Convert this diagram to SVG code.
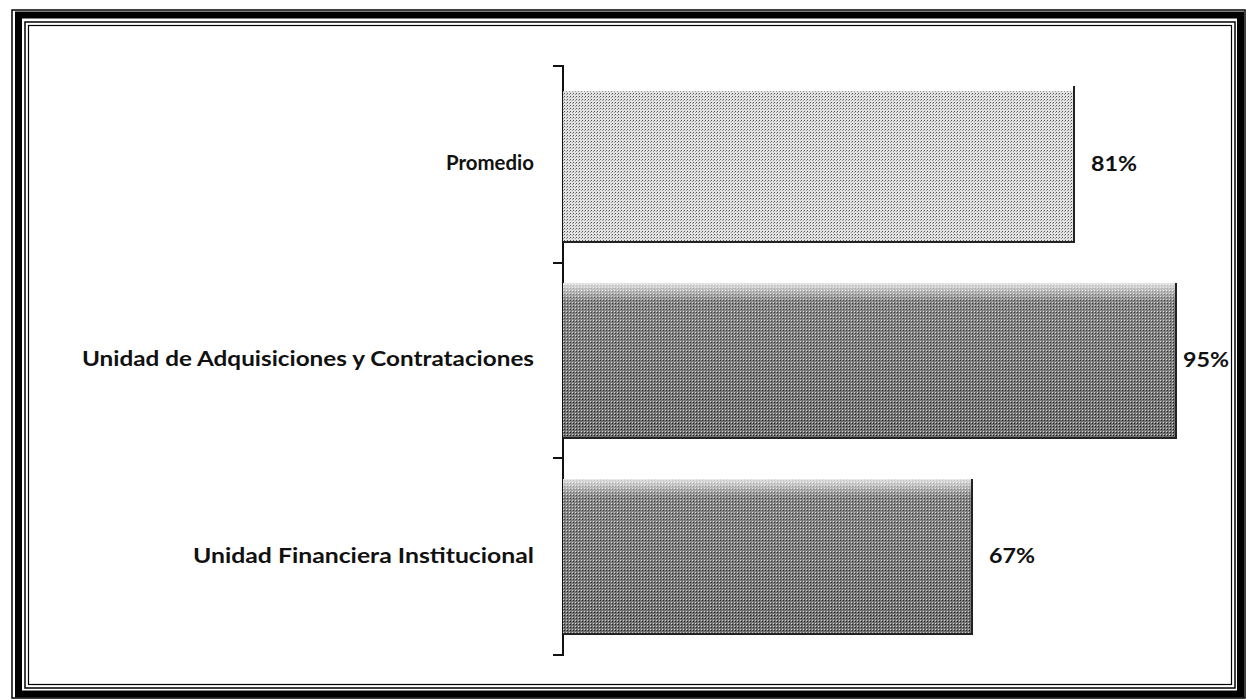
<svg xmlns="http://www.w3.org/2000/svg" width="1246" height="700" viewBox="0 0 1246 700">
  <style>
    .lbl { font-family: Lato, "Open Sans", "Liberation Sans", sans-serif; font-weight: bold; font-size: 21px; fill: #111; }
    .cat { text-anchor: end; }
    .frame { fill: none; stroke: #000; }
    .axis { stroke: #111; stroke-width: 2; fill: none; }
    .edge { stroke: #222; stroke-width: 2; fill: none; }
  </style>
  <defs>
    <pattern id="dotsLight" width="3" height="3" patternUnits="userSpaceOnUse">
      <rect width="3" height="3" fill="#e2e2e2"/>
      <rect x="0" y="0" width="1" height="1" fill="#555"/>
      <rect x="2" y="1" width="1" height="1" fill="#999"/>
    </pattern>
    <pattern id="dotsDark" width="3" height="3" patternUnits="userSpaceOnUse">
      <rect width="3" height="3" fill="#707070"/>
      <rect x="0" y="0" width="1" height="1" fill="#222"/>
      <rect x="2" y="2" width="1" height="1" fill="#cfcfcf"/>
    </pattern>
    <linearGradient id="topShine" x1="0" y1="0" x2="0" y2="1">
      <stop offset="0" stop-color="#ffffff" stop-opacity="0.8"/>
      <stop offset="0.12" stop-color="#ffffff" stop-opacity="0.15"/>
      <stop offset="1" stop-color="#ffffff" stop-opacity="0"/>
    </linearGradient>
  </defs>

  <rect width="1246" height="700" fill="#fff"/>

  <g id="frame">
    <rect class="frame" x="12" y="10" width="1233" height="688" stroke-width="1.5"/>
    <rect class="frame" x="18.5" y="15" width="1222" height="679" stroke-width="7"/>
    <rect class="frame" x="25" y="22" width="1210" height="666" stroke-width="1.5"/>
    <rect class="frame" x="28.5" y="25.5" width="1203" height="659" stroke-width="1.2"/>
  </g>

  <g id="connectors">
    <path class="axis" d="M553 66 H563 V655 H553 M553 263 H563 M553 458 H563"/>
  </g>

  <g id="bar-promedio">
    <rect x="563" y="91" width="511" height="151" fill="url(#dotsLight)"/>
    <path class="edge" d="M1074 86 V242 H563"/>
    <text class="lbl cat" x="534" y="170" textLength="88" lengthAdjust="spacingAndGlyphs">Promedio</text>
    <text class="lbl" x="1091" y="171" textLength="46" lengthAdjust="spacingAndGlyphs">81%</text>
  </g>

  <g id="bar-adquisiciones">
    <rect x="563" y="283" width="613" height="155" fill="url(#dotsDark)"/>
    <rect x="563" y="283" width="613" height="155" fill="url(#topShine)"/>
    <path class="edge" d="M1176 283 V438 H563"/>
    <text class="lbl cat" x="534" y="366" textLength="452" lengthAdjust="spacingAndGlyphs">Unidad de Adquisiciones y Contrataciones</text>
    <text class="lbl" x="1183" y="367" textLength="46" lengthAdjust="spacingAndGlyphs">95%</text>
  </g>

  <g id="bar-financiera">
    <rect x="563" y="479" width="409" height="155" fill="url(#dotsDark)"/>
    <rect x="563" y="479" width="409" height="155" fill="url(#topShine)"/>
    <path class="edge" d="M972 479 V634 H563"/>
    <text class="lbl cat" x="534" y="563" textLength="341" lengthAdjust="spacingAndGlyphs">Unidad Financiera Institucional</text>
    <text class="lbl" x="989" y="563" textLength="46" lengthAdjust="spacingAndGlyphs">67%</text>
  </g>
</svg>
